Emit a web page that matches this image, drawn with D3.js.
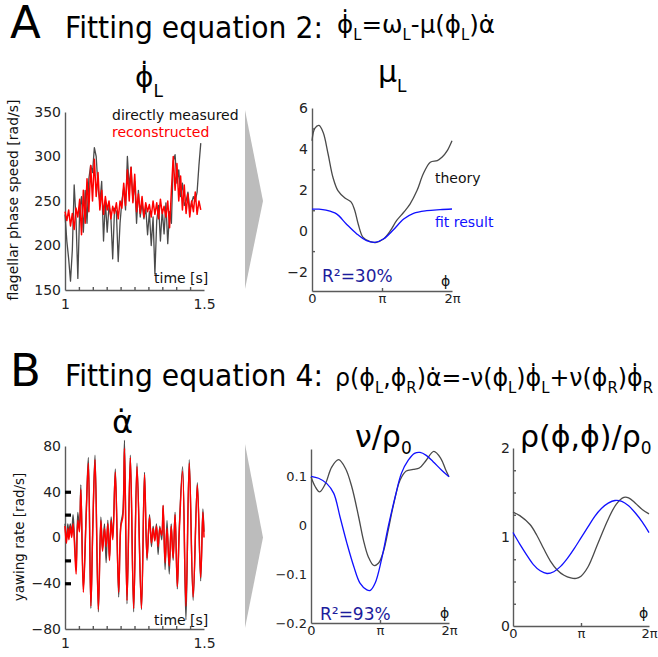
<!DOCTYPE html>
<html>
<head>
<meta charset="utf-8">
<script src="https://cdn.jsdelivr.net/npm/d3@7"></script>
<style>
  body { margin: 0; background: #fff; }
  svg { font-family: "DejaVu Sans", sans-serif; }
  .axis path, .axis line { stroke: #5a5a5a; stroke-width: 1.4; }
  .axis text { fill: #222; font-family: "DejaVu Sans", sans-serif; }
  .trace { fill: none; stroke-linejoin: round; }
</style>
</head>
<body>
<svg width="658" height="657"></svg>
<script>
"use strict";

// ---- data ----
const speedStep = 0.0066; // sample spacing [s], series start at t = 1 s
const speedMeasured = [235, 205, 185, 160, 195, 268, 230, 163, 240, 255, 215, 262, 225, 275, 290,
  282, 310, 300, 265, 248, 272, 205, 250, 215, 245, 232, 185, 242, 238, 182, 225, 250, 265, 240,
  300, 265, 288, 250, 272, 225, 262, 232, 248, 230, 243, 212, 238, 200, 232, 168, 228, 245, 205,
  240, 213, 248, 202, 238, 225, 295, 302, 270, 285, 255, 270, 245, 250, 260, 240, 248, 255, 250,
  260, 290, 315];
const speedReconstructed = [238, 228, 240, 222, 236, 218, 242, 232, 252, 212, 262, 225, 275, 238,
  290, 250, 297, 255, 282, 240, 262, 235, 255, 240, 250, 230, 244, 236, 248, 230, 250, 242, 270,
  245, 285, 250, 288, 248, 280, 238, 258, 236, 255, 232, 248, 238, 246, 232, 250, 235, 248, 230,
  252, 236, 244, 232, 250, 220, 262, 300, 262, 292, 250, 278, 240, 268, 236, 258, 232, 250, 238,
  260, 235, 250, 240];

const yawTime = [1.000, 1.005, 1.010, 1.014, 1.019, 1.024, 1.029, 1.034, 1.040, 1.046, 1.052,
  1.057, 1.066, 1.076, 1.084, 1.093, 1.100, 1.108, 1.120, 1.129, 1.135, 1.142, 1.148, 1.154,
  1.160, 1.166, 1.172, 1.181, 1.193, 1.201, 1.208, 1.214, 1.223, 1.235, 1.247, 1.259, 1.275,
  1.286, 1.295, 1.304, 1.311, 1.317, 1.323, 1.329, 1.335, 1.341, 1.348, 1.353, 1.360, 1.367,
  1.375, 1.382, 1.389, 1.396, 1.404, 1.411, 1.423, 1.435, 1.447, 1.461, 1.476, 1.488, 1.496, 1.500];
const yawMeasured = [12, -3, 12, 5, 12, 4, 20, 0, -28, 22, 8, 46, -45, 20, 70, -62, 8, 72, -65, 18,
  -10, 12, -22, 15, -18, 18, 0, 60, -52, 12, 22, 85, -58, 72, -65, 65, -63, 57, -20, 20, -8, 10,
  -2, 12, -15, 10, -2, 28, -28, 15, -32, 12, -20, 22, -45, 8, 62, -72, 68, -55, 48, -38, 25, 5];
const yawReconstructed = [10, -5, 8, -2, 10, 0, 12, -5, -32, 15, 5, 42, -48, 18, 65, -60, 10, 68,
  -63, 15, -12, 8, -8, 12, -20, 15, -2, 57, -48, 10, 18, 78, -55, 70, -62, 62, -62, 55, -18, 18,
  -5, 8, -3, 10, -8, 8, 2, 28, -22, 8, -25, 10, -18, 20, -43, 5, 58, -60, 65, -52, 46, -35, 22, 0];
const yawMarks = [-40, -20, 20, 40];

// phase in units of pi
const muTheoryPhase = [0, 0.04, 0.1, 0.16, 0.23, 0.3, 0.37, 0.47, 0.56, 0.61, 0.66, 0.73, 0.83,
  0.92, 1.02, 1.12, 1.21, 1.31, 1.4, 1.5, 1.59, 1.69, 1.79, 1.86, 1.93, 2.0];
const muTheory = [4.4, 5.0, 5.15, 4.8, 3.75, 2.6, 1.96, 1.6, 1.4, 1.0, 0.33, -0.33, -0.54, -0.57,
  -0.41, 0, 0.5, 0.9, 1.3, 1.96, 2.78, 3.35, 3.43, 3.6, 3.9, 4.4];
const muFitPhase = [0, 0.1, 0.2, 0.35, 0.49, 0.64, 0.78, 0.9, 1.02, 1.16, 1.31, 1.45, 1.64, 1.83, 2.0];
const muFit = [1.05, 1.05, 1.0, 0.82, 0.33, -0.16, -0.49, -0.57, -0.41, 0.03, 0.57, 0.85, 0.98,
  1.03, 1.06];

const nuTheoryPhase = [0, 0.06, 0.125, 0.21, 0.3, 0.4, 0.5, 0.59, 0.69, 0.76, 0.83, 0.91, 0.98,
  1.05, 1.12, 1.19, 1.29, 1.38, 1.48, 1.57, 1.67, 1.78, 1.88, 1.95, 2.0];
const nuTheory = [0.1, 0.08, 0.069, 0.086, 0.12, 0.135, 0.117, 0.08, 0.018, -0.03, -0.064, -0.082,
  -0.077, -0.053, -0.009, 0.039, 0.093, 0.112, 0.115, 0.118, 0.134, 0.152, 0.138, 0.115, 0.1];
const nuFitPhase = [0, 0.11, 0.23, 0.33, 0.42, 0.52, 0.62, 0.71, 0.81, 0.86, 0.93, 1.02, 1.12,
  1.22, 1.31, 1.41, 1.5, 1.58, 1.67, 1.77, 1.89, 2.0];
const nuFit = [0.101, 0.097, 0.086, 0.066, 0.018, -0.036, -0.084, -0.118, -0.132, -0.133, -0.118,
  -0.071, -0.002, 0.059, 0.107, 0.134, 0.148, 0.15, 0.144, 0.131, 0.114, 0.1];

const rhoTheoryPhase = [0, 0.1, 0.25, 0.35, 0.45, 0.55, 0.65, 0.75, 0.85, 0.93, 1.0, 1.1, 1.25,
  1.4, 1.52, 1.63, 1.7, 1.8, 1.9, 2.0];
const rhoTheory = [1.28, 1.24, 1.14, 1.02, 0.87, 0.73, 0.63, 0.57, 0.54, 0.535, 0.56, 0.66, 0.93,
  1.2, 1.37, 1.445, 1.44, 1.38, 1.31, 1.26];
const rhoFitPhase = [0, 0.1, 0.2, 0.3, 0.4, 0.5, 0.6, 0.7, 0.8, 0.9, 1.0, 1.1, 1.2, 1.3, 1.4, 1.5,
  1.6, 1.7, 1.8, 1.9, 2.0];
const rhoFit = [1.05, 0.92, 0.8, 0.69, 0.62, 0.59, 0.61, 0.67, 0.76, 0.87, 0.99, 1.11, 1.23, 1.32,
  1.38, 1.41, 1.4, 1.35, 1.27, 1.17, 1.05];

const phaseTickLabels = ["0", "\u03c0", "2\u03c0"];

// ---- drawing ----
const svg = d3.select("svg");
const GRAY = "#4a4a4a";
const RED = "#ff0000";
const BLUE = "#1010ff";
const NAVY = "#1c1c9c";

svg.append("rect").attr("width", 658).attr("height", 657).attr("fill", "#fff");

const makePanel = (xDomain, xRange, yDomain, yRange) => ({
  x: d3.scaleLinear().domain(xDomain).range(xRange),
  y: d3.scaleLinear().domain(yDomain).range(yRange)
});

const speedPanel = makePanel([1, 1.5], [65, 204], [150, 350], [290, 112]);
const muPanel = makePanel([0, 2], [312, 452], [-2.95, 6], [291, 108]);
const yawPanel = makePanel([1, 1.5], [65, 204], [-80, 80], [629, 446]);
const nuPanel = makePanel([0, 2], [311, 449], [-0.2, 0.157], [623, 449]);
const rhoPanel = makePanel([0, 2], [513, 649], [0, 2], [626, 448]);

const drawAxes = (p, o) => {
  const x0 = p.x.range()[0];
  const y0 = p.y.range()[0];
  const gy = svg.append("g").attr("class", "axis")
    .attr("transform", `translate(${x0},0)`)
    .call(d3.axisLeft(p.y).tickValues(o.yTicks).tickFormat(o.yFormat)
      .tickSize(0).tickSizeOuter(0).tickPadding(o.yPad || 4));
  gy.selectAll("text").style("font-size", (o.yFont || 14) + "px");
  if (o.yMinor) {
    const m = svg.append("g").attr("class", "axis")
      .attr("transform", `translate(${x0},0)`)
      .call(d3.axisLeft(p.y).tickValues(o.yMinor).tickFormat("")
        .tickSizeInner(-3).tickSizeOuter(0));
    m.select(".domain").remove();
  }
  const gx = svg.append("g").attr("class", "axis")
    .attr("transform", `translate(0,${y0})`)
    .call(d3.axisBottom(p.x).tickValues(o.xTicks).tickFormat(o.xFormat)
      .tickSize(0).tickSizeOuter(0).tickPadding(o.xPad || 5));
  gx.selectAll("text").style("font-size", (o.xFont || 14) + "px");
  if (o.xMinor) {
    const m = svg.append("g").attr("class", "axis")
      .attr("transform", `translate(0,${y0})`)
      .call(d3.axisBottom(p.x).tickValues(o.xMinor).tickFormat("")
        .tickSizeInner(-3).tickSizeOuter(0));
    m.select(".domain").remove();
  }
};

const drawLine = (p, xs, ys, color, width, curve) => {
  svg.append("path")
    .datum(xs.map((d, i) => [d, ys[i]]))
    .attr("class", "trace")
    .attr("stroke", color)
    .attr("stroke-width", width)
    .attr("d", d3.line().x(d => p.x(d[0])).y(d => p.y(d[1])).curve(curve));
};

const label = (x, y, txt, size, color, anchor) =>
  svg.append("text").attr("x", x).attr("y", y)
    .attr("font-size", size).attr("fill", color || "#000")
    .attr("text-anchor", anchor || "start").text(txt);

// math text with subscripts: parts = [[text, isSub], ...]
const mathText = (x, y, parts, size, subSize, shift, len) => {
  const t = svg.append("text").attr("x", x).attr("y", y).attr("font-size", size);
  let down = false;
  parts.forEach(([s, sub]) => {
    const ts = t.append("tspan").text(s);
    if (sub && !down) { ts.attr("dy", shift).attr("font-size", subSize); down = true; }
    else if (sub) { ts.attr("font-size", subSize); }
    else if (!sub && down) { ts.attr("dy", -shift); down = false; }
  });
  if (len) t.attr("textLength", len).attr("lengthAdjust", "spacingAndGlyphs");
  return t;
};

const phaseFormat = d => phaseTickLabels[d];
const timeTicks = [1, 1.5];
const timeMinor = d3.range(1, 10).map(i => 1 + i * 0.05);

// ---- headers ----
label(10, 38, "A", 45);
label(65, 38, "Fitting equation 2:", 30).attr("textLength", 258).attr("lengthAdjust", "spacingAndGlyphs");
mathText(337, 33, [["\u03d5\u0307", 0], ["L", 1], ["=\u03c9", 0], ["L", 1], ["-\u03bc(\u03d5", 0],
  ["L", 1], [")\u03b1\u0307", 0]], 25, 15, 7, 158);

label(10, 386, "B", 45);
label(65, 386, "Fitting equation 4:", 30).attr("textLength", 258).attr("lengthAdjust", "spacingAndGlyphs");
mathText(335, 386, [["\u03c1(\u03d5", 0], ["L", 1], [",\u03d5", 0], ["R", 1], [")\u03b1\u0307=-\u03bd(\u03d5", 0],
  ["L", 1], [")\u03d5\u0307", 0], ["L", 1], ["+\u03bd(\u03d5", 0], ["R", 1], [")\u03d5\u0307", 0], ["R", 1]],
  24, 15, 7, 318);

// ---- panel A left: phase speed ----
mathText(135, 87, [["\u03d5\u0307", 0], ["L", 1]], 28, 17, 10);
drawAxes(speedPanel, {
  yTicks: [150, 200, 250, 300, 350], yFormat: d3.format("d"),
  xTicks: timeTicks, xFormat: d3.format("~g"), xMinor: timeMinor, xPad: 9
});
drawLine(speedPanel, speedMeasured.map((d, i) => 1 + i * speedStep), speedMeasured, GRAY, 1.3, d3.curveLinear);
drawLine(speedPanel, speedReconstructed.map((d, i) => 1 + i * speedStep), speedReconstructed, RED, 1.5, d3.curveLinear);
label(112, 120, "directly measured", 14, "#111");
label(112, 137, "reconstructed", 14, RED);
label(154, 283, "time [s]", 14, "#111");
label(0, 0, "flagellar phase speed [rad/s]", 14, "#111", "middle")
  .attr("transform", "translate(18,200) rotate(-90)");

// ---- panel A right: mu ----
mathText(378, 82, [["\u03bc", 0], ["L", 1]], 30, 17, 10);
drawAxes(muPanel, {
  yTicks: [-2, 0, 2, 4, 6], yFormat: d => d < 0 ? "\u2212" + Math.abs(d) : d,
  yMinor: [-1, 1, 3, 5],
  xTicks: [0, 1, 2], xFormat: phaseFormat, xMinor: [1], xFont: 13, xPad: 3
});
drawLine(muPanel, muTheoryPhase, muTheory, GRAY, 1.3, d3.curveCatmullRom);
drawLine(muPanel, muFitPhase, muFit, BLUE, 1.3, d3.curveCatmullRom);
label(435, 183, "theory", 14, "#111");
label(435, 227, "fit result", 14, BLUE);
label(322, 282, "R\u00b2=30%", 17, NAVY);
label(441, 286, "\u03d5", 14, "#111");

// ---- panel B left: yaw rate ----
mathText(112, 433, [["\u03b1\u0307", 0]], 32, 17, 10);
drawAxes(yawPanel, {
  yTicks: [-80, -40, 0, 40, 80], yFormat: d3.format("d"),
  xTicks: timeTicks, xFormat: d3.format("~g"), xMinor: timeMinor, xPad: 9
});
drawLine(yawPanel, yawTime, yawMeasured, GRAY, 1.3, d3.curveCatmullRom);
drawLine(yawPanel, yawTime, yawReconstructed, RED, 1.5, d3.curveCatmullRom);
// short thick black marks on the inner side of the yaw axis, drawn over the traces
svg.append("g")
  .attr("transform", `translate(${yawPanel.x.range()[0]},0)`)
  .call(d3.axisLeft(yawPanel.y).tickValues(yawMarks).tickFormat("").tickSizeInner(-6).tickSizeOuter(0))
  .call(g => g.select(".domain").remove())
  .call(g => g.selectAll("line").attr("stroke", "#000").attr("stroke-width", 3.2));
label(154, 625, "time [s]", 14, "#111");
label(0, 0, "yawing rate [rad/s]", 13.5, "#111", "middle")
  .attr("transform", "translate(24,537) rotate(-90)");

// ---- panel B middle: nu ----
mathText(355, 447, [["\u03bd/\u03c1", 0], ["0", 1]], 30, 17, 7);
drawAxes(nuPanel, {
  yTicks: [-0.2, -0.1, 0, 0.1], yFormat: d => d < 0 ? "\u2212" + Math.abs(d) : d, yFont: 13,
  xTicks: [0, 1, 2], xFormat: phaseFormat, xMinor: [1], xFont: 13, xPad: 3
});
drawLine(nuPanel, nuTheoryPhase, nuTheory, GRAY, 1.3, d3.curveCatmullRom);
drawLine(nuPanel, nuFitPhase, nuFit, BLUE, 1.3, d3.curveCatmullRom);
label(320, 620, "R\u00b2=93%", 17, NAVY);
label(440, 618, "\u03d5", 14, "#111");

// ---- panel B right: rho ----
mathText(520, 447, [["\u03c1(\u03d5,\u03d5)/\u03c1", 0], ["0", 1]], 30, 17, 7);
drawAxes(rhoPanel, {
  yTicks: [0, 1, 2], yFormat: d3.format("d"), yPad: 3,
  yMinor: [0.25, 0.5, 0.75, 1.25, 1.5, 1.75],
  xTicks: [0, 1, 2], xFormat: phaseFormat, xMinor: [1], xFont: 13, xPad: 3
});
drawLine(rhoPanel, rhoTheoryPhase, rhoTheory, GRAY, 1.3, d3.curveCatmullRom);
drawLine(rhoPanel, rhoFitPhase, rhoFit, BLUE, 1.3, d3.curveCatmullRom);
label(639, 618, "\u03d5", 14, "#111");

// ---- grey arrows between the data and the fitted functions ----
const arrow = p => {
  const [yb, yt] = p.y.range();
  const xl = p.x.range()[1] + 41;
  svg.append("polygon")
    .attr("points", [[xl, yt - 2], [xl + 18, (yt + yb) / 2], [xl, yb - 1]].map(d => d.join(",")).join(" "))
    .attr("fill", "#bcbcbc");
};
arrow(speedPanel);
arrow(yawPanel);
</script>
</body>
</html>
